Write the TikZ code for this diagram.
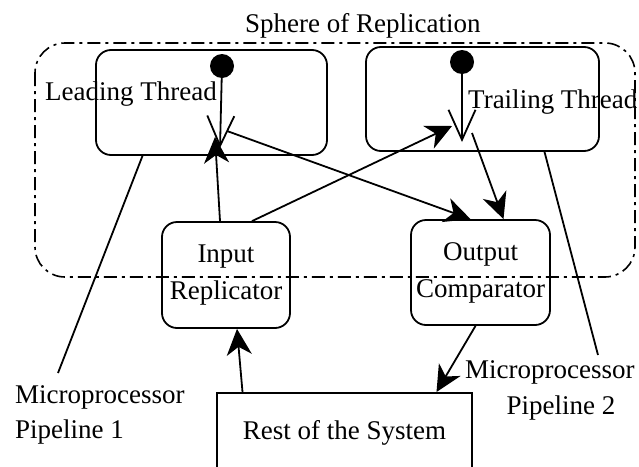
\documentclass[tikz,border=0pt]{standalone}
\usepackage{fontspec}
\setmainfont{Liberation Serif}
\usetikzlibrary{arrows.meta}
\begin{document}
\begin{tikzpicture}[x=1pt,y=-1pt,
  every node/.style={font=\fontsize{27}{37}\selectfont, inner sep=0pt},
  thread/.style={draw, line width=1.8pt, rounded corners=15pt},
  unitbox/.style={draw, line width=1.8pt, rounded corners=15pt, align=center},
  plainbox/.style={draw, line width=1.8pt},
  flow/.style={line width=1.8pt, -{Stealth[length=26pt,width=25pt,inset=8pt]}},
  initflow/.style={line width=1.8pt, -{Straight Barb[length=30pt,width=27pt,line width=1.8pt]}},
  pointer/.style={line width=1.8pt},
  initdot/.style={circle, fill=black, minimum size=24pt},
  sphere/.style={line width=1.6pt, rounded corners=30pt,
    dash pattern=on 13pt off 5pt on 3pt off 5pt}
]
\useasboundingbox (0,0) rectangle (639,466);
\clip (0,0) rectangle (639,466);

% sphere of replication
\draw[sphere] (35,43) rectangle (635,277);
\node[anchor=base west] (title) at (245,32) {Sphere of Replication};

% redundant threads
\node[thread, minimum width=231pt, minimum height=105pt] (lead) at (211.5,102.5) {};
\node[thread, minimum width=233pt, minimum height=104pt] (trail) at (482.5,99) {};
\node[anchor=base west] (leadlbl) at (45,100) {Leading Thread};
\node[anchor=base west] (traillbl) at (468,108) {Trailing Thread};

\node[initdot] (ldot) at (222,66) {};
\node[initdot] (tdot) at (462,62) {};
\coordinate (ltip) at (220,148);
\coordinate (ttip) at (462,142);
\coordinate (lin) at (215,137);
\coordinate (lout) at (227,131);
\coordinate (tin) at (452,126);
\coordinate (tout) at (472,133);

% replicator and comparator
\node[unitbox, minimum width=128pt, minimum height=106pt] (inrep) at (226,275) {Input\\Replicator};
\node[unitbox, minimum width=139pt, minimum height=105pt] (outcmp) at (480.5,272.5) {Output\\Comparator};

% rest of the system
\node[plainbox, minimum width=255pt, minimum height=80pt, anchor=north] (rest) at (344.5,392) {Rest of the System};

% pipeline labels
\node[anchor=base west] (mp1a) at (15,403) {Microprocessor};
\node[anchor=base west] (mp1b) at (15,438) {Pipeline 1};
\node[anchor=base west] (mp2a) at (465,378) {Microprocessor};
\node[anchor=base] (mp2b) at (561,414) {Pipeline 2};
\coordinate (mp1end) at (58,373);
\coordinate (mp2end) at (598,355);

% initial transitions
\draw[initflow] (ldot.center) -- (ltip);
\draw[initflow] (tdot.center) -- (ttip);

% data flow
\draw[flow] ([xshift=-6pt]inrep.north) -- (lin);
\draw[flow] (lout) -- ([xshift=-10pt]outcmp.north);
\draw[flow] ([xshift=26pt]inrep.north) -- (tin);
\draw[flow] (tout) -- ([xshift=23pt]outcmp.north);
\draw[flow] ([xshift=-5pt]outcmp.south) -- ([xshift=92pt]rest.north);
\draw[flow] ([xshift=-102pt]rest.north) -- ([xshift=11pt]inrep.south);

% pipeline pointers
\draw[pointer] ([xshift=-69pt]lead.south) -- (mp1end);
\draw[pointer] ([xshift=62pt]trail.south) -- (mp2end);
\end{tikzpicture}
\end{document}
